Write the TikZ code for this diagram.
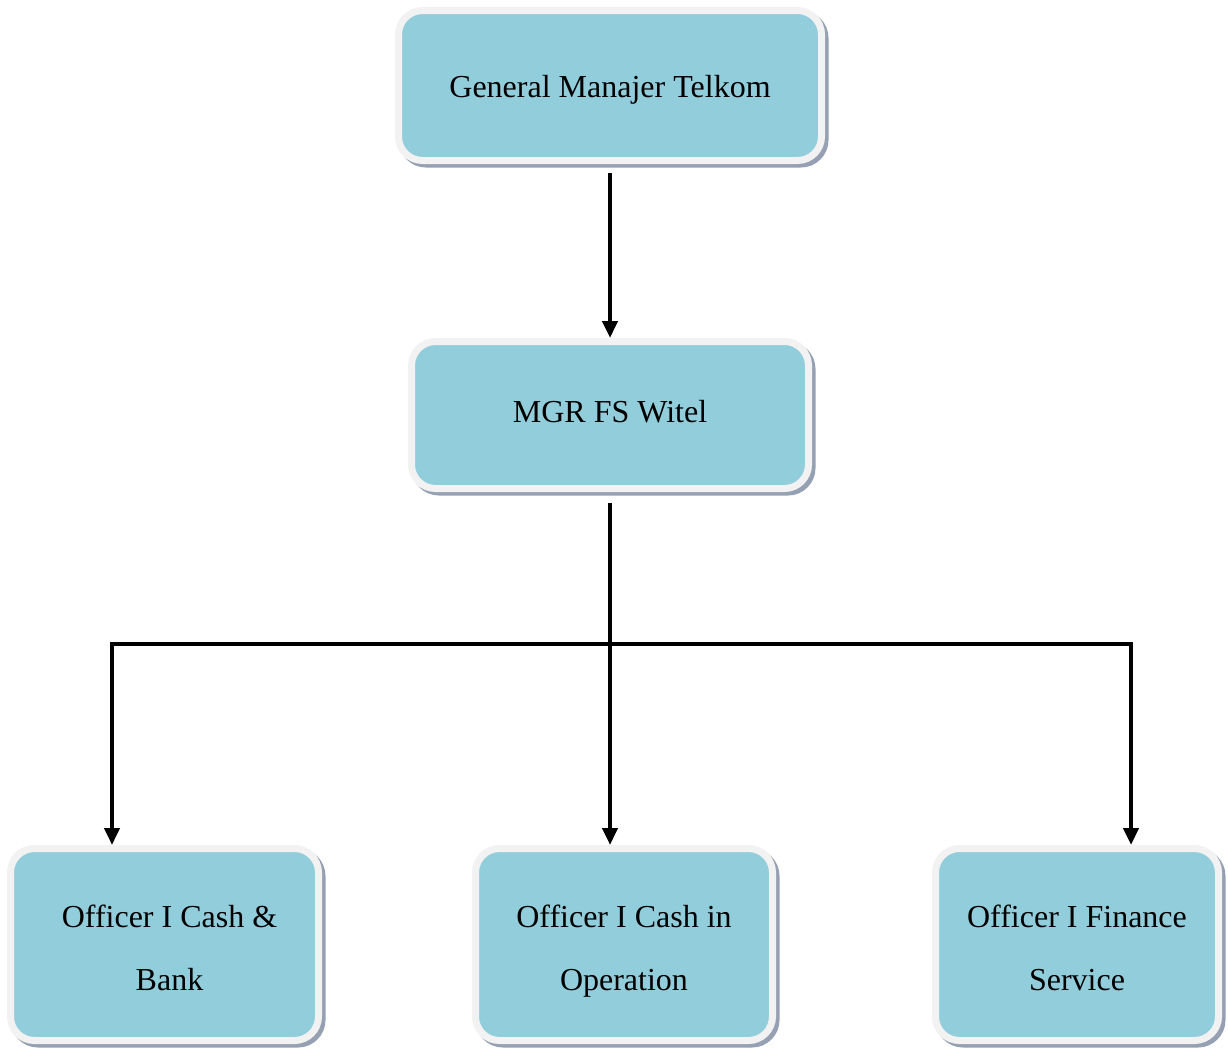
\documentclass[tikz,border=0pt]{standalone}
\usepackage{fontspec}
\setmainfont{Liberation Serif}
\usepackage{xcolor}
\definecolor{box_blue}{RGB}{146, 205, 220}
\definecolor{box_rim}{RGB}{242, 242, 242}
\definecolor{box_shade}{RGB}{149, 160, 178}
\usepackage{tikz}
\usetikzlibrary{arrows.meta, positioning, calc}
\newcommand{\padtop}[1]{\rule{0pt}{#1}}
\newcommand{\padbot}[1]{\rule[-#1]{0pt}{#1}}

\tikzset{
  orgbox/.style={rectangle, rounded corners=24pt, draw=box_rim, line width=7pt,
    fill=box_blue, inner sep=0pt, align=center,
    font=\fontsize{32}{63}\selectfont,
    preaction={draw=box_shade, fill=box_shade, line width=7pt,
      transform canvas={shift={(3.5pt,-3.5pt)}}}},
  link/.style={line width=4.5pt, black, >={Triangle[length=17pt, width=15pt]}}
}

\begin{document}
\begin{tikzpicture}[x=1pt, y=-1pt]
  \useasboundingbox (0,0) rectangle (1228,1050);
  % boxes
  \node[orgbox, minimum width=423pt, minimum height=150pt] (gm)  at (610, 85.5)  {\padtop{30pt}General Manajer Telkom};
  \node[orgbox, minimum width=397pt, minimum height=147pt] (mgr) at (610, 415)   {\padbot{8pt}MGR FS Witel};
  \node[orgbox, minimum width=308pt, minimum height=192pt] (ocb) at (164.5, 944.5) {\hspace*{10pt}\padtop{30pt}Officer I Cash \&\\\hspace*{10pt}Bank};
  \node[orgbox, minimum width=297pt, minimum height=192pt] (oco) at (624, 944.5)   {\padtop{36pt}Officer I Cash in\\Operation};
  \node[orgbox, minimum width=283pt, minimum height=192pt] (ofs) at (1077, 944.5)  {\padtop{30pt}Officer I Finance\\Service};
  % bus line
  \coordinate (busL) at (112, 644);
  \coordinate (busR) at (1131, 644);
  \draw[link, ->, shorten <=9pt] (gm.south) -- (mgr.north);
  \draw[link, ->, shorten <=11pt] (mgr.south) -- (mgr.south |- oco.north);
  \draw[link, <->] (busL |- ocb.north) -- (busL) -- (busR) -- (busR |- ofs.north);
\end{tikzpicture}
\end{document}
